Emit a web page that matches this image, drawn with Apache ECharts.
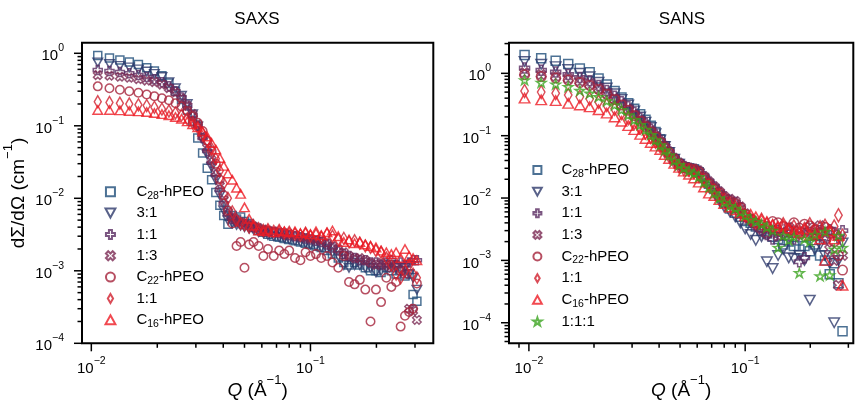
<!DOCTYPE html>
<html><head><meta charset="utf-8">
<script src="https://cdn.jsdelivr.net/npm/echarts@6/dist/echarts.min.js"></script>
<style>html,body{margin:0;padding:0;background:#fff}#c{width:855px;height:404px}</style>
</head><body><div id="c"></div>
<script>
// ---------- DATA ----------
const qSAXS = [0.0107,0.0121,0.0135,0.0149,0.0164,0.0179,0.0194,0.0210,0.0226,0.0242,0.0258,0.0274,0.0290,0.0306,0.0322,0.0338,0.0354,0.0370,0.0386,0.0402,0.0420,0.0440,0.0460,0.0480,0.0500,0.0525,0.0550,0.0580,0.0610,0.0640,0.0680,0.0720,0.0760,0.0800,0.0850,0.0900,0.0950,0.1000,0.1060,0.1120,0.1190,0.1260,0.1340,0.1420,0.1500,0.1590,0.1680,0.1780,0.1880,0.1990,0.2100,0.2220,0.2340,0.2460,0.2580,0.2700,0.2820,0.2940,0.3060];
const saxsC28 = [0.93,0.86,0.81,0.76,0.70,0.63,0.57,0.49,0.39,0.30,0.23,0.165,0.115,0.068,0.042,0.026,0.018,0.012,0.008,0.0058,0.0044,0.0058,0.0052,0.0055,0.0048,0.0045,0.0040,0.0036,0.0034,0.0032,0.0030,0.0029,0.0028,0.0027,0.0026,0.0025,0.0024,0.0023,0.0022,0.0021,0.0019,0.0017,0.0015,0.0013,0.0012,0.0013,0.0012,0.0011,0.0010,0.0010,0.00095,0.0011,0.0010,0.0009,0.0010,0.00085,0.0009,0.00047,0.00038];
const saxs31 = [0.75,0.71,0.67,0.64,0.60,0.56,0.52,0.47,0.40,0.33,0.26,0.20,0.145,0.098,0.065,0.040,0.027,0.018,0.011,0.0068,0.0050,0.0045,0.0043,0.0042,0.0040,0.0038,0.0037,0.0034,0.0033,0.0031,0.0030,0.0029,0.0028,0.0027,0.0026,0.0025,0.0024,0.0023,0.0022,0.0021,0.0020,0.0018,0.0016,0.0012,0.0011,0.0012,0.0012,0.0011,0.0011,0.00095,0.0010,0.0011,0.0012,0.0011,0.0010,0.0011,0.0009,0.0008,0.00055];
const saxs11 = [0.59,0.57,0.55,0.53,0.50,0.47,0.44,0.40,0.35,0.30,0.245,0.19,0.14,0.10,0.068,0.045,0.031,0.021,0.013,0.0085,0.006,0.0052,0.0048,0.0045,0.0044,0.0042,0.0040,0.0038,0.0036,0.0035,0.0034,0.0033,0.0032,0.0031,0.0030,0.0029,0.0028,0.0027,0.0026,0.0025,0.0023,0.0021,0.0019,0.0017,0.0016,0.0015,0.0014,0.0014,0.0013,0.0013,0.0012,0.0013,0.0014,0.0012,0.0013,0.0012,0.0013,0.0014,0.0014];
const saxs13 = [0.50,0.49,0.475,0.46,0.44,0.42,0.40,0.37,0.33,0.29,0.24,0.19,0.145,0.105,0.072,0.050,0.034,0.023,0.015,0.0095,0.0065,0.0055,0.0050,0.0047,0.0045,0.0043,0.0041,0.0039,0.0037,0.0036,0.0035,0.0034,0.0033,0.0032,0.0031,0.0030,0.0029,0.0028,0.0027,0.0026,0.0024,0.0022,0.0020,0.0018,0.0016,0.0015,0.0015,0.0014,0.0013,0.0012,0.0013,0.0012,0.0011,0.0012,0.0010,0.0009,0.0003,0.00028,0.00021];
const saxsC22 = [0.35,0.33,0.315,0.30,0.285,0.27,0.255,0.24,0.225,0.205,0.185,0.16,0.135,0.11,0.085,0.062,0.045,0.030,0.018,0.011,0.0068,0.0045,0.0022,0.0025,0.0011,0.0023,0.0025,0.0022,0.0016,0.0020,0.0016,0.0019,0.0017,0.0019,0.0015,0.0014,0.0018,0.0016,0.0017,0.0015,0.0016,0.0013,0.0011,0.0016,0.0007,0.00065,0.00075,0.00055,0.0002,0.00055,0.00037,0.0008,0.0006,0.0007,0.00017,0.00024,0.00027,0.0003,0.00067];
const saxs11b = [0.215,0.21,0.205,0.20,0.195,0.19,0.18,0.17,0.16,0.15,0.14,0.125,0.11,0.095,0.078,0.062,0.048,0.035,0.024,0.016,0.010,0.0065,0.0050,0.0045,0.0043,0.0040,0.0042,0.0038,0.0036,0.0037,0.0035,0.0036,0.0033,0.0034,0.0032,0.0031,0.0033,0.0030,0.0031,0.0029,0.0032,0.0030,0.0027,0.0028,0.0025,0.0026,0.0024,0.0022,0.0021,0.0019,0.0018,0.0015,0.0012,0.0009,0.0008,0.0010,0.0012,0.0009,0.0008];
const saxsC16 = [0.165,0.165,0.163,0.16,0.158,0.155,0.15,0.145,0.14,0.132,0.125,0.115,0.105,0.095,0.083,0.071,0.058,0.047,0.036,0.028,0.022,0.018,0.014,0.0115,0.0075,0.0052,0.0042,0.0036,0.0035,0.0037,0.0034,0.0036,0.0035,0.0034,0.0035,0.0033,0.0034,0.0032,0.0035,0.0031,0.0034,0.0036,0.0030,0.0025,0.0027,0.0024,0.0025,0.0023,0.0022,0.0021,0.0019,0.0018,0.0017,0.0018,0.0015,0.0020,0.0016,0.0015,0.0014];

const qSANS = [0.00955,0.0114,0.0133,0.0152,0.0172,0.0191,0.0210,0.0229,0.0249,0.0268,0.0288,0.0307,0.0327,0.0346,0.0366,0.0385,0.0405,0.0425,0.0445,0.0470,0.0495,0.0520,0.0550,0.0580,0.0610,0.0645,0.0680,0.0720,0.0760,0.0800,0.0850,0.0900,0.0950,0.1000,0.1060,0.1120,0.1190,0.1260,0.1340,0.1420,0.1500,0.1590,0.1680,0.1780,0.1880,0.1990,0.2100,0.2220,0.2340,0.2460,0.2580,0.2700,0.2820];
const sansC28 = [1.97,1.74,1.59,1.41,1.20,1.04,0.83,0.66,0.52,0.41,0.33,0.27,0.22,0.18,0.145,0.115,0.088,0.068,0.054,0.042,0.035,0.031,0.030,0.029,0.026,0.021,0.017,0.014,0.011,0.0085,0.0068,0.0058,0.0050,0.0043,0.0040,0.0035,0.0030,0.0027,0.0024,0.0022,0.0018,0.0020,0.0017,0.0015,0.0017,0.0014,0.0018,0.0012,0.0010,0.0006,0.0009,0.00043,0.000073];
const sans31 = [1.55,1.40,1.28,1.15,1.00,0.88,0.72,0.58,0.47,0.38,0.31,0.25,0.20,0.165,0.135,0.108,0.085,0.067,0.054,0.042,0.035,0.031,0.028,0.027,0.024,0.019,0.015,0.012,0.009,0.0072,0.0060,0.0050,0.0040,0.0032,0.0026,0.0021,0.0024,0.00095,0.00074,0.0012,0.0015,0.0011,0.00107,0.0012,0.0010,0.00023,0.0015,0.0018,0.0012,0.0009,0.0001,0.0010,0.0019];
const sans11 = [1.22,1.12,1.05,0.96,0.86,0.76,0.64,0.53,0.43,0.35,0.29,0.235,0.19,0.155,0.127,0.103,0.083,0.067,0.055,0.043,0.036,0.032,0.030,0.029,0.027,0.022,0.018,0.015,0.0125,0.0105,0.0092,0.0085,0.0070,0.0052,0.0044,0.0036,0.0031,0.0026,0.0022,0.0030,0.0026,0.0032,0.0022,0.00095,0.0011,0.0028,0.0025,0.0030,0.0022,0.0031,0.0028,0.0023,0.0030];
const sans13 = [1.03,0.96,0.90,0.83,0.75,0.67,0.57,0.48,0.39,0.32,0.265,0.215,0.175,0.145,0.12,0.098,0.080,0.066,0.054,0.043,0.036,0.032,0.030,0.029,0.027,0.022,0.018,0.015,0.0125,0.0105,0.0095,0.0088,0.0072,0.0056,0.0046,0.0038,0.0032,0.0027,0.0030,0.0025,0.0028,0.0034,0.0030,0.0026,0.0029,0.0034,0.0025,0.0036,0.0022,0.0015,0.0010,0.0004,0.0012];
const sansC22 = [0.95,0.89,0.84,0.78,0.71,0.64,0.55,0.46,0.38,0.31,0.255,0.21,0.17,0.14,0.115,0.095,0.078,0.064,0.053,0.042,0.035,0.031,0.030,0.029,0.026,0.021,0.017,0.014,0.012,0.010,0.0088,0.0082,0.0070,0.0055,0.0046,0.0040,0.0037,0.0035,0.0042,0.0040,0.0035,0.0030,0.0040,0.0033,0.0038,0.0036,0.0031,0.0028,0.0034,0.0030,0.0020,0.0012,0.0007];
const sans11b = [0.52,0.50,0.48,0.45,0.42,0.39,0.35,0.31,0.27,0.23,0.19,0.16,0.135,0.112,0.095,0.080,0.067,0.056,0.047,0.038,0.032,0.029,0.028,0.026,0.023,0.019,0.016,0.013,0.011,0.0092,0.0080,0.0072,0.0062,0.0052,0.0045,0.0040,0.0045,0.0038,0.0035,0.0032,0.0038,0.0030,0.0035,0.0028,0.0032,0.0038,0.0030,0.0034,0.0036,0.0028,0.0035,0.0053,0.0025];
const sansC16 = [0.40,0.375,0.365,0.33,0.31,0.29,0.26,0.23,0.20,0.17,0.145,0.125,0.105,0.09,0.078,0.068,0.060,0.050,0.043,0.036,0.031,0.027,0.024,0.021,0.018,0.015,0.012,0.011,0.0095,0.0082,0.0072,0.0065,0.0058,0.0052,0.0055,0.0050,0.0045,0.0042,0.0038,0.0035,0.0037,0.0033,0.0030,0.0028,0.0032,0.0025,0.0027,0.0022,0.0010,0.0030,0.0022,0.0025,0.0004];
const sans111 = [0.78,0.71,0.67,0.61,0.53,0.48,0.42,0.36,0.31,0.26,0.215,0.18,0.15,0.125,0.103,0.085,0.071,0.059,0.049,0.040,0.034,0.030,0.027,0.025,0.022,0.018,0.015,0.012,0.010,0.0085,0.0075,0.0068,0.0060,0.0052,0.0045,0.0042,0.0038,0.0034,0.0030,0.0016,0.0025,0.0021,0.0024,0.00063,0.0022,0.0020,0.0026,0.00056,0.0029,0.00058,0.0015,0.0025,0.0016];

const saxsLabels = ['C28-hPEO','3:1','1:1','1:3','C22-hPEO','1:1','C16-hPEO'];
const sansLabels = ['C28-hPEO','3:1','1:1','1:3','C22-hPEO','1:1','C16-hPEO','1:1:1'];

// axis ranges (data units)
const saxsX = [0.009067, 0.3636], saxsY = [1e-4, 1.40];
const sansX = [0.008091, 0.3162], sansY = [4.68e-5, 3.10];

// ---------- STYLE ----------
const FF = '"Liberation Sans", Arial, sans-serif';
const COL = {c28:'#1f4e79', r31:'#2e3a6c', r11:'#5a2c62', r13:'#7a2953', c22:'#a5233b', r11b:'#d11f2d', c16:'#ee1b24', r111:'#3ba41f'};
const SQUARE = 'path://M-1,-1L1,-1L1,1L-1,1Z';
const TRI_UP = 'path://M0,-1L1.1,1L-1.1,1Z';
const TRI_DOWN = 'path://M0,1L1.1,-1L-1.1,-1Z';
const PLUS = 'path://M-1,-3L1,-3L1,-1L3,-1L3,1L1,1L1,3L-1,3L-1,1L-3,1L-3,-1L-1,-1Z';
const XMARK = 'path://M2,-4L4,-2L2,0L4,2L2,4L0,2L-2,4L-4,2L-2,0L-4,-2L-2,-4L0,-2Z';
const THIN_DIAMOND = 'path://M0,-6L3.5,0L0,6L-3.5,0Z';
const STAR = 'path://M0,-10L2.23,-3.07L9.51,-3.09L3.61,1.17L5.88,8.09L0,3.8L-5.88,8.09L-3.61,1.17L-9.51,-3.09L-2.23,-3.07Z';

function zip(a, b) { return a.map((v, i) => [v, b[i]]); }

function sc(name, gi, q, y, color, symbol, size) {
  return {
    type: 'scatter', name, xAxisIndex: gi, yAxisIndex: gi, data: zip(q, y),
    symbol, symbolSize: size, symbolKeepAspect: false, silent: true,
    itemStyle: {color: 'rgba(0,0,0,0)', borderColor: color, borderWidth: 1.5},
    emphasis: {disabled: true}
  };
}

function minorTicks(lo, hi) {
  const out = [];
  for (let k = Math.floor(Math.log10(lo)); k <= Math.ceil(Math.log10(hi)); k++) {
    for (let m = 2; m <= 9; m++) { const v = m * Math.pow(10, k); if (v >= lo && v <= hi) out.push(v); }
  }
  return out;
}
function majorTicks(lo, hi) {
  const out = [];
  for (let k = Math.ceil(Math.log10(lo) - 1e-9); k <= Math.floor(Math.log10(hi) + 1e-9); k++) out.push(Math.pow(10, k));
  return out;
}
function tickSeries(gi, xr, yr) {
  const d = [];
  majorTicks(xr[0], xr[1]).forEach(v => d.push([v, yr[0], 0, 8]));
  minorTicks(xr[0], xr[1]).forEach(v => d.push([v, yr[0], 0, 4.5]));
  majorTicks(yr[0], yr[1]).forEach(v => d.push([xr[0], v, 1, 8]));
  minorTicks(yr[0], yr[1]).forEach(v => d.push([xr[0], v, 1, 4.5]));
  return {
    type: 'custom', xAxisIndex: gi, yAxisIndex: gi, data: d, clip: false, silent: true, z: 10,
    encode: {x: 0, y: 1},
    renderItem(params, api) {
      const p = api.coord([api.value(0), api.value(1)]);
      const dir = api.value(2), len = api.value(3);
      const shape = dir === 0 ? {x1: p[0], y1: p[1], x2: p[0], y2: p[1] + len}
                              : {x1: p[0] - len, y1: p[1], x2: p[0], y2: p[1]};
      return {type: 'line', shape, style: {stroke: '#000', lineWidth: 1.5}};
    }
  };
}

function powFmt(v) {
  const l = Math.log10(v), e = Math.round(l);
  if (Math.abs(l - e) > 1e-6) return '';
  return '{b|10}{e|' + (e < 0 ? '\u2212' + (-e) : String(e)) + '}';
}
const tickRich = {
  b: {fontFamily: FF, fontSize: 15, lineHeight: 21, verticalAlign: 'bottom', color: '#000'},
  e: {fontFamily: FF, fontSize: 10.5, verticalAlign: 'top', color: '#000'}
};
const nameRich = {
  q: {fontFamily: FF, fontSize: 19, fontStyle: 'italic', lineHeight: 26, verticalAlign: 'bottom', color: '#000'},
  a: {fontFamily: FF, fontSize: 19, lineHeight: 26, verticalAlign: 'bottom', color: '#000'},
  e: {fontFamily: FF, fontSize: 13, verticalAlign: 'top', color: '#000'}
};
function legendText(s) {
  const m = s.match(/^C(\d+)(.*)$/);
  if (m) return '{n|C}{s|' + m[1] + '}{n|' + m[2] + '}';
  return '{n|' + s + '}';
}
const legendRich = {
  n: {fontFamily: FF, fontSize: 15, lineHeight: 19, color: '#000'},
  s: {fontFamily: FF, fontSize: 10.5, verticalAlign: 'bottom', color: '#000'}
};

function xAxisCfg(gi, r) {
  return {
    type: 'log', logBase: 10, gridIndex: gi, min: r[0], max: r[1],
    axisLine: {show: false}, axisTick: {show: false}, splitLine: {show: false}, minorTick: {show: false},
    axisLabel: {formatter: powFmt, margin: 12, rich: tickRich, color: '#000'},
    name: '{q|Q}{a| (\u00C5}{e|\u22121}{a|)}', nameLocation: 'middle', nameGap: 31, nameMoveOverlap: false,
    nameTextStyle: {rich: nameRich, color: '#000'}
  };
}
function yAxisCfg(gi, r, withName) {
  const c = {
    type: 'log', logBase: 10, gridIndex: gi, min: r[0], max: r[1],
    axisLine: {show: false}, axisTick: {show: false}, splitLine: {show: false}, minorTick: {show: false},
    axisLabel: {formatter: powFmt, margin: 18, rich: tickRich, color: '#000'}
  };
  if (withName) Object.assign(c, {
    name: '{a|d\u03A3/d\u03A9 (cm}{e|\u22121}{a|)}', nameLocation: 'middle', nameGap: 54, nameMoveOverlap: false,
    nameTextStyle: {rich: nameRich, color: '#000'}
  });
  return c;
}

const saxsNames = saxsLabels.map((_, i) => 'saxs' + i);
const sansNames = sansLabels.map((_, i) => 'sans' + i);
const labelOf = {};
saxsNames.forEach((n, i) => labelOf[n] = saxsLabels[i]);
sansNames.forEach((n, i) => labelOf[n] = sansLabels[i]);

const series = [
  sc(saxsNames[0], 0, qSAXS, saxsC28, COL.c28, SQUARE, 8),
  sc(saxsNames[1], 0, qSAXS, saxs31, COL.r31, TRI_DOWN, [9.5, 8.5]),
  sc(saxsNames[2], 0, qSAXS, saxs11, COL.r11, PLUS, 9),
  sc(saxsNames[3], 0, qSAXS, saxs13, COL.r13, XMARK, 8.5),
  sc(saxsNames[4], 0, qSAXS, saxsC22, COL.c22, 'circle', 8.5),
  sc(saxsNames[5], 0, qSAXS, saxs11b, COL.r11b, THIN_DIAMOND, [7, 12]),
  sc(saxsNames[6], 0, qSAXS, saxsC16, COL.c16, TRI_UP, [9.5, 8.5]),
  sc(sansNames[0], 1, qSANS, sansC28, COL.c28, SQUARE, 9),
  sc(sansNames[1], 1, qSANS, sans31, COL.r31, TRI_DOWN, [10.5, 9.5]),
  sc(sansNames[2], 1, qSANS, sans11, COL.r11, PLUS, 10),
  sc(sansNames[3], 1, qSANS, sans13, COL.r13, XMARK, 9.5),
  sc(sansNames[4], 1, qSANS, sansC22, COL.c22, 'circle', 9.5),
  sc(sansNames[5], 1, qSANS, sans11b, COL.r11b, THIN_DIAMOND, [7.5, 13]),
  sc(sansNames[6], 1, qSANS, sansC16, COL.c16, TRI_UP, [10.5, 9.5]),
  sc(sansNames[7], 1, qSANS, sans111, COL.r111, STAR, [9.5, 9]),
  tickSeries(0, saxsX, saxsY),
  tickSeries(1, sansX, sansY)
];

const legendBase = {
  orient: 'vertical', padding: 0, selectedMode: false, itemHeight: 9,
  formatter: n => legendText(labelOf[n]),
  textStyle: {fontFamily: FF, fontSize: 15, lineHeight: 19, color: '#000', rich: legendRich}
};

const chart = echarts.init(document.getElementById('c'), null, {renderer: 'canvas'});
chart.setOption({
  animation: false,
  backgroundColor: '#fff',
  textStyle: {fontFamily: FF},
  grid: [
    {left: 82, top: 42.7, width: 351.3, height: 300.6, show: true, borderColor: '#000', borderWidth: 2, backgroundColor: 'rgba(0,0,0,0)', containLabel: false, outerBoundsMode: 'none'},
    {left: 509, top: 42.7, width: 344.3, height: 300.6, show: true, borderColor: '#000', borderWidth: 2, backgroundColor: 'rgba(0,0,0,0)', containLabel: false, outerBoundsMode: 'none'}
  ],
  xAxis: [xAxisCfg(0, saxsX), xAxisCfg(1, sansX)],
  yAxis: [yAxisCfg(0, saxsY, true), yAxisCfg(1, sansY, false)],
  legend: [
    Object.assign({}, legendBase, {data: saxsNames, left: 104.5, top: 182.2, itemWidth: 42, itemGap: 2.35}),
    Object.assign({}, legendBase, {data: sansNames, left: 532, top: 160.5, itemWidth: 38, itemGap: 2.64, itemHeight: 8})
  ],
  graphic: [
    {type: 'text', x: 257, y: 19, style: {text: 'SAXS', fill: '#000', font: '17px ' + FF, align: 'center', verticalAlign: 'middle'}},
    {type: 'text', x: 682, y: 19, style: {text: 'SANS', fill: '#000', font: '17px ' + FF, align: 'center', verticalAlign: 'middle'}}
  ],
  series
});
</script>
</body></html>
